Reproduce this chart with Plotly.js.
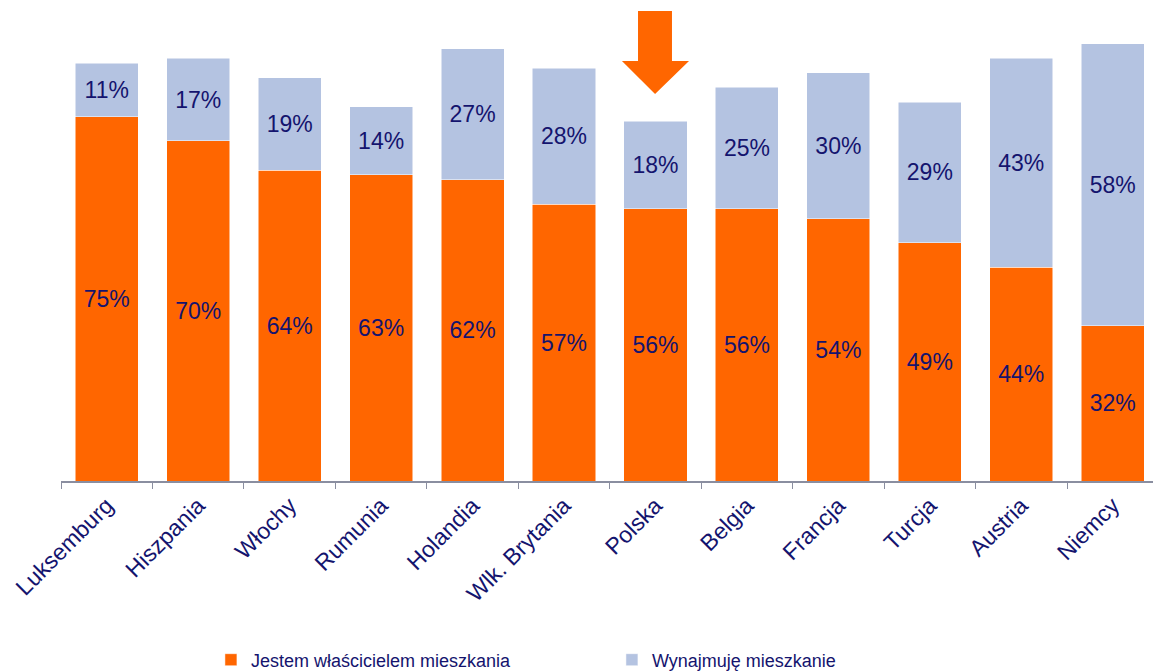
<!DOCTYPE html>
<html>
<head>
<meta charset="utf-8">
<script src="https://cdn.plot.ly/plotly-3.0.1.min.js"></script>
<style>html,body{margin:0;padding:0;background:#fff;}#chart{width:1153px;height:671px;}</style>
</head>
<body>
<div id="chart"></div>
<script>
const categories = ["Luksemburg","Hiszpania","Włochy","Rumunia","Holandia","Wlk. Brytania","Polska","Belgia","Francja","Turcja","Austria","Niemcy"];
const owners = [75,70,64,63,62,57,56,56,54,49,44,32];
const renters = [11,17,19,14,27,28,18,25,30,29,43,58];
const seriesNames = ["Jestem właścicielem mieszkania","Wynajmuję mieszkanie"];

const navy = "#14146e";
const labelFont = {family:"Liberation Sans, Arial, sans-serif", size:23, color:navy};

const traces = [
  {type:"bar", name:seriesNames[0], x:categories, y:owners,
   marker:{color:"#FF6600", line:{color:"#ffffff", width:0.5}},
   text:owners.map(v=>v+"%"), textposition:"inside", insidetextanchor:"middle",
   textfont:labelFont, textangle:0, hoverinfo:"x+y"},
  {type:"bar", name:seriesNames[1], x:categories, y:renters,
   marker:{color:"#B4C3E1", line:{color:"#ffffff", width:0.5}},
   text:renters.map(v=>v+"%"), textposition:"inside", insidetextanchor:"middle",
   textfont:labelFont, textangle:0, hoverinfo:"x+y"}
];

const layout = {
  width:1153, height:671,
  margin:{l:61, r:0, t:0, b:190},
  barmode:"stack", bargap:0.31,
  paper_bgcolor:"#ffffff", plot_bgcolor:"#ffffff",
  showlegend:true,
  legend:{orientation:"h", x:0.1373, xanchor:"left", xref:"paper",
          y:0.0164, yanchor:"middle", yref:"container",
          font:{family:"Liberation Sans, Arial, sans-serif", size:18, color:navy},
          entrywidth:356, itemwidth:30, traceorder:"normal"},
  xaxis:{range:[-0.5,11.44], tickangle:-45, tickson:"boundaries", ticks:"outside", ticklen:6,
         tickcolor:"#8a8ea0", showline:true, linecolor:"#8a8ea0", linewidth:2, automargin:false,
         tickfont:{family:"Liberation Sans, Arial, sans-serif", size:23, color:navy},
         showgrid:false, zeroline:false, fixedrange:true},
  yaxis:{range:[0,99], visible:false, showgrid:false, zeroline:false, fixedrange:true, automargin:false},
  shapes:[{type:"path", xref:"paper", yref:"paper",
    path:"M 0.5284 0.9771 L 0.5595 0.9771 L 0.5595 0.8732 L 0.5751 0.8732 L 0.5440 0.8046 L 0.5137 0.8732 L 0.5284 0.8732 Z",
    fillcolor:"#FF6600", line:{width:0}}]
};

Plotly.newPlot("chart", traces, layout, {displayModeBar:false, staticPlot:true});
</script>
</body>
</html>
